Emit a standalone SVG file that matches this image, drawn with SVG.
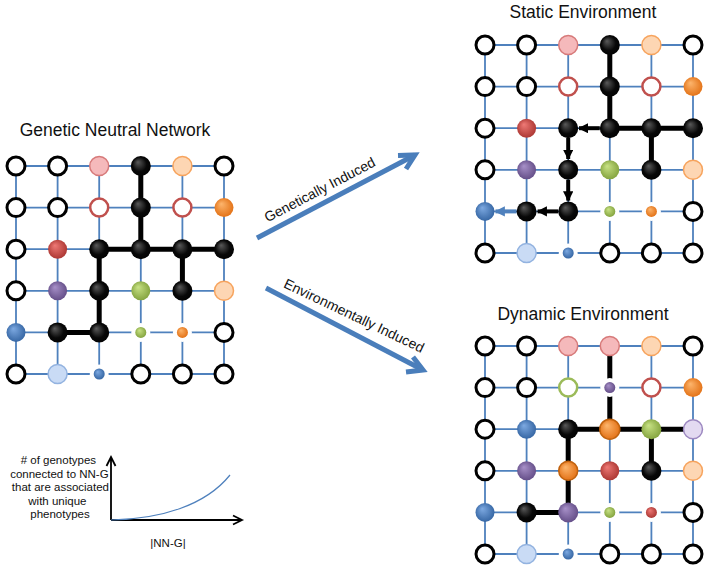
<svg xmlns="http://www.w3.org/2000/svg" width="709" height="572" viewBox="0 0 709 572">
<defs>
<radialGradient id="gB" cx="0.5" cy="0.5" r="0.6" fx="0.35" fy="0.3"><stop offset="0" stop-color="#5a5a5a"/><stop offset="0.6" stop-color="#080808"/><stop offset="1" stop-color="#000"/></radialGradient>
<radialGradient id="gR" cx="0.5" cy="0.5" r="0.6" fx="0.35" fy="0.3"><stop offset="0" stop-color="#ef7a76"/><stop offset="1" stop-color="#a42f2b"/></radialGradient>
<radialGradient id="gOr" cx="0.5" cy="0.5" r="0.6" fx="0.35" fy="0.3"><stop offset="0" stop-color="#fdb66e"/><stop offset="1" stop-color="#e06a0c"/></radialGradient>
<radialGradient id="gG" cx="0.5" cy="0.5" r="0.6" fx="0.35" fy="0.3"><stop offset="0" stop-color="#c9e386"/><stop offset="1" stop-color="#7c9c36"/></radialGradient>
<radialGradient id="gPu" cx="0.5" cy="0.5" r="0.6" fx="0.35" fy="0.3"><stop offset="0" stop-color="#a891c9"/><stop offset="1" stop-color="#5c4680"/></radialGradient>
<radialGradient id="gBl" cx="0.5" cy="0.5" r="0.6" fx="0.35" fy="0.3"><stop offset="0" stop-color="#7eaae2"/><stop offset="1" stop-color="#2d5e9c"/></radialGradient>
<marker id="ah" viewBox="0 0 10 10" refX="9" refY="5" markerWidth="2.6" markerHeight="2.6" orient="auto" markerUnits="strokeWidth"><path d="M0,0 L10,5 L0,10 z" fill="#000"/></marker>
<marker id="ahb" viewBox="0 0 10 10" refX="9" refY="5" markerWidth="2.6" markerHeight="2.6" orient="auto" markerUnits="strokeWidth"><path d="M0,0 L10,5 L0,10 z" fill="#4f81bd"/></marker>
<style>
.grid{fill:none;stroke:#4f81bd;stroke-width:1.8}
.thick{fill:none;stroke:#000;stroke-width:5;stroke-linecap:round}
.arr{fill:none;stroke:#000;stroke-width:4}
.arrb{fill:none;stroke:#4f81bd;stroke-width:4}
.o{fill:#fff;stroke:#000;stroke-width:3}
.b{fill:url(#gB)}
.r{fill:url(#gR)}
.or{fill:url(#gOr)}
.ord{fill:url(#gOr);stroke:#c0620e;stroke-width:1.5}
.g{fill:url(#gG)}
.pu{fill:url(#gPu)}
.bl{fill:url(#gBl)}
.pk{fill:#f5b9bb;stroke:#d77a7a;stroke-width:1.5}
.pe{fill:#fdd6b3;stroke:#f7a45e;stroke-width:1.5}
.ro{fill:#fff;stroke:#c0504d;stroke-width:2.5}
.go{fill:#fff;stroke:#9bbb59;stroke-width:2.5}
.lb{fill:#c9dbf5;stroke:#93b3e0;stroke-width:1.5}
.lv{fill:#e3daf1;stroke:#9c88c0;stroke-width:1.5}
.halo{fill:#fff}
.title{font-family:"Liberation Sans",Arial,sans-serif;font-size:17.5px;fill:#111;text-anchor:middle}
.lbl{font-family:"Liberation Sans",Arial,sans-serif;font-size:14px;fill:#111;text-anchor:middle}
.small{font-family:"Liberation Sans",Arial,sans-serif;font-size:11.5px;fill:#111;text-anchor:middle}
.big{fill:none;stroke:#4a7ebb;stroke-width:5}
.axis{fill:none;stroke:#000;stroke-width:1.8}
</style>
</defs>

<text class="title" x="115" y="136">Genetic Neutral Network</text>
<text class="title" x="583" y="18">Static Environment</text>
<text class="title" x="583" y="320">Dynamic Environment</text>

<!-- Genetic Neutral Network grid -->
<g id="gnn" transform="translate(16,166)">
<path class="grid" d="M0,0H208M0,41.6H208M0,83.2H208M0,124.8H208M0,166.4H208M0,208H208M0,0V208M41.6,0V208M83.2,0V208M124.8,0V208M166.4,0V208M208,0V208"/>
<path class="thick" d="M124.8,0V83.2M83.2,83.2H208M83.2,83.2V166.4M41.6,166.4H83.2M166.4,83.2V124.8"/>
<circle id="gnn-r0c0" class="o" cx="0" cy="0" r="9"/>
<circle id="gnn-r0c1" class="o" cx="41.6" cy="0" r="9"/>
<circle id="gnn-r0c2" class="pk" cx="83.2" cy="0" r="9.5"/>
<circle id="gnn-r0c3" class="b" cx="124.8" cy="0" r="10"/>
<circle id="gnn-r0c4" class="pe" cx="166.4" cy="0" r="9.5"/>
<circle id="gnn-r0c5" class="o" cx="208" cy="0" r="9"/>
<circle id="gnn-r1c0" class="o" cx="0" cy="41.6" r="9"/>
<circle id="gnn-r1c1" class="o" cx="41.6" cy="41.6" r="9"/>
<circle id="gnn-r1c2" class="ro" cx="83.2" cy="41.6" r="9"/>
<circle id="gnn-r1c3" class="b" cx="124.8" cy="41.6" r="10"/>
<circle id="gnn-r1c4" class="ro" cx="166.4" cy="41.6" r="9"/>
<circle id="gnn-r1c5" class="or" cx="208" cy="41.6" r="9.5"/>
<circle id="gnn-r2c0" class="o" cx="0" cy="83.2" r="9"/>
<circle id="gnn-r2c1" class="r" cx="41.6" cy="83.2" r="9.5"/>
<circle id="gnn-r2c2" class="b" cx="83.2" cy="83.2" r="10"/>
<circle id="gnn-r2c3" class="b" cx="124.8" cy="83.2" r="10"/>
<circle id="gnn-r2c4" class="b" cx="166.4" cy="83.2" r="10"/>
<circle id="gnn-r2c5" class="b" cx="208" cy="83.2" r="10"/>
<circle id="gnn-r3c0" class="o" cx="0" cy="124.8" r="9"/>
<circle id="gnn-r3c1" class="pu" cx="41.6" cy="124.8" r="9.5"/>
<circle id="gnn-r3c2" class="b" cx="83.2" cy="124.8" r="10"/>
<circle id="gnn-r3c3" class="g" cx="124.8" cy="124.8" r="9.5"/>
<circle id="gnn-r3c4" class="b" cx="166.4" cy="124.8" r="10"/>
<circle id="gnn-r3c5" class="pe" cx="208" cy="124.8" r="9.5"/>
<circle id="gnn-r4c0" class="bl" cx="0" cy="166.4" r="9.5"/>
<circle id="gnn-r4c1" class="b" cx="41.6" cy="166.4" r="10"/>
<circle id="gnn-r4c2" class="b" cx="83.2" cy="166.4" r="10"/>
<g id="gnn-r4c3"><circle class="halo" cx="124.8" cy="166.4" r="9.5"/><circle class="g" cx="124.8" cy="166.4" r="5.5"/></g>
<g id="gnn-r4c4"><circle class="halo" cx="166.4" cy="166.4" r="9.5"/><circle class="or" cx="166.4" cy="166.4" r="5.5"/></g>
<circle id="gnn-r4c5" class="o" cx="208" cy="166.4" r="9"/>
<circle id="gnn-r5c0" class="o" cx="0" cy="208" r="9"/>
<circle id="gnn-r5c1" class="lb" cx="41.6" cy="208" r="9.5"/>
<g id="gnn-r5c2"><circle class="halo" cx="83.2" cy="208" r="9.5"/><circle class="bl" cx="83.2" cy="208" r="5.5"/></g>
<circle id="gnn-r5c3" class="o" cx="124.8" cy="208" r="9"/>
<circle id="gnn-r5c4" class="o" cx="166.4" cy="208" r="9"/>
<circle id="gnn-r5c5" class="o" cx="208" cy="208" r="9"/>
</g>

<!-- Static Environment grid -->
<g id="static" transform="translate(485,45)">
<path class="grid" d="M0,0H208M0,41.6H208M0,83.2H208M0,124.8H208M0,166.4H208M0,208H208M0,0V208M41.6,0V208M83.2,0V208M124.8,0V208M166.4,0V208M208,0V208"/>
<path class="thick" d="M124.8,0V83.2M124.8,83.2H208M166.4,83.2V124.8"/>
<g id="static-path">
<path class="arr" d="M114.8,83.2H94" marker-end="url(#ah)"/>
<path class="arr" d="M83.2,93V114" marker-end="url(#ah)"/>
<path class="arr" d="M83.2,134.8V155.6" marker-end="url(#ah)"/>
<path class="arr" d="M73.2,166.4H52.6" marker-end="url(#ah)"/>
<path class="arrb" d="M31.6,166.4H10.5" marker-end="url(#ahb)"/>
</g>
<circle id="st-r0c0" class="o" cx="0" cy="0" r="9"/>
<circle id="st-r0c1" class="o" cx="41.6" cy="0" r="9"/>
<circle id="st-r0c2" class="pk" cx="83.2" cy="0" r="9.5"/>
<circle id="st-r0c3" class="b" cx="124.8" cy="0" r="10"/>
<circle id="st-r0c4" class="pe" cx="166.4" cy="0" r="9.5"/>
<circle id="st-r0c5" class="o" cx="208" cy="0" r="9"/>
<circle id="st-r1c0" class="o" cx="0" cy="41.6" r="9"/>
<circle id="st-r1c1" class="o" cx="41.6" cy="41.6" r="9"/>
<circle id="st-r1c2" class="ro" cx="83.2" cy="41.6" r="9"/>
<circle id="st-r1c3" class="b" cx="124.8" cy="41.6" r="10"/>
<circle id="st-r1c4" class="ro" cx="166.4" cy="41.6" r="9"/>
<circle id="st-r1c5" class="or" cx="208" cy="41.6" r="9.5"/>
<circle id="st-r2c0" class="o" cx="0" cy="83.2" r="9"/>
<circle id="st-r2c1" class="r" cx="41.6" cy="83.2" r="9.5"/>
<circle id="st-r2c2" class="b" cx="83.2" cy="83.2" r="10"/>
<circle id="st-r2c3" class="b" cx="124.8" cy="83.2" r="10"/>
<circle id="st-r2c4" class="b" cx="166.4" cy="83.2" r="10"/>
<circle id="st-r2c5" class="b" cx="208" cy="83.2" r="10"/>
<circle id="st-r3c0" class="o" cx="0" cy="124.8" r="9"/>
<circle id="st-r3c1" class="pu" cx="41.6" cy="124.8" r="9.5"/>
<circle id="st-r3c2" class="b" cx="83.2" cy="124.8" r="10"/>
<circle id="st-r3c3" class="g" cx="124.8" cy="124.8" r="9.5"/>
<circle id="st-r3c4" class="b" cx="166.4" cy="124.8" r="10"/>
<circle id="st-r3c5" class="pe" cx="208" cy="124.8" r="9.5"/>
<circle id="st-r4c0" class="bl" cx="0" cy="166.4" r="9.5"/>
<circle id="st-r4c1" class="b" cx="41.6" cy="166.4" r="10"/>
<circle id="st-r4c2" class="b" cx="83.2" cy="166.4" r="10"/>
<g id="st-r4c3"><circle class="halo" cx="124.8" cy="166.4" r="9.5"/><circle class="g" cx="124.8" cy="166.4" r="5.5"/></g>
<g id="st-r4c4"><circle class="halo" cx="166.4" cy="166.4" r="9.5"/><circle class="or" cx="166.4" cy="166.4" r="5.5"/></g>
<circle id="st-r4c5" class="o" cx="208" cy="166.4" r="9"/>
<circle id="st-r5c0" class="o" cx="0" cy="208" r="9"/>
<circle id="st-r5c1" class="lb" cx="41.6" cy="208" r="9.5"/>
<g id="st-r5c2"><circle class="halo" cx="83.2" cy="208" r="9.5"/><circle class="bl" cx="83.2" cy="208" r="5.5"/></g>
<circle id="st-r5c3" class="o" cx="124.8" cy="208" r="9"/>
<circle id="st-r5c4" class="o" cx="166.4" cy="208" r="9"/>
<circle id="st-r5c5" class="o" cx="208" cy="208" r="9"/>
</g>

<!-- Dynamic Environment grid -->
<g id="dynamic" transform="translate(485,346)">
<path class="grid" d="M0,0H208M0,41.6H208M0,83.2H208M0,124.8H208M0,166.4H208M0,208H208M0,0V208M41.6,0V208M83.2,0V208M124.8,0V208M166.4,0V208M208,0V208"/>
<path class="thick" d="M124.8,0V83.2M83.2,83.2H208M83.2,83.2V166.4M41.6,166.4H83.2M166.4,83.2V124.8"/>
<circle id="dy-r0c0" class="o" cx="0" cy="0" r="9"/>
<circle id="dy-r0c1" class="o" cx="41.6" cy="0" r="9"/>
<circle id="dy-r0c2" class="pk" cx="83.2" cy="0" r="9.5"/>
<circle id="dy-r0c3" class="pk" cx="124.8" cy="0" r="9.5"/>
<circle id="dy-r0c4" class="pe" cx="166.4" cy="0" r="9.5"/>
<circle id="dy-r0c5" class="o" cx="208" cy="0" r="9"/>
<circle id="dy-r1c0" class="o" cx="0" cy="41.6" r="9"/>
<circle id="dy-r1c1" class="o" cx="41.6" cy="41.6" r="9"/>
<circle id="dy-r1c2" class="go" cx="83.2" cy="41.6" r="9"/>
<g id="dy-r1c3"><circle class="halo" cx="124.8" cy="41.6" r="9.5"/><circle class="pu" cx="124.8" cy="41.6" r="5.5"/></g>
<circle id="dy-r1c4" class="ro" cx="166.4" cy="41.6" r="9"/>
<circle id="dy-r1c5" class="or" cx="208" cy="41.6" r="9.5"/>
<circle id="dy-r2c0" class="o" cx="0" cy="83.2" r="9"/>
<circle id="dy-r2c1" class="bl" cx="41.6" cy="83.2" r="9.5"/>
<circle id="dy-r2c2" class="b" cx="83.2" cy="83.2" r="10"/>
<circle id="dy-r2c3" class="ord" cx="124.8" cy="83.2" r="10"/>
<circle id="dy-r2c4" class="g" cx="166.4" cy="83.2" r="10"/>
<circle id="dy-r2c5" class="lv" cx="208" cy="83.2" r="9.5"/>
<circle id="dy-r3c0" class="o" cx="0" cy="124.8" r="9"/>
<circle id="dy-r3c1" class="pu" cx="41.6" cy="124.8" r="9.5"/>
<circle id="dy-r3c2" class="ord" cx="83.2" cy="124.8" r="9.5"/>
<circle id="dy-r3c3" class="r" cx="124.8" cy="124.8" r="9.5"/>
<circle id="dy-r3c4" class="b" cx="166.4" cy="124.8" r="10"/>
<circle id="dy-r3c5" class="pe" cx="208" cy="124.8" r="9.5"/>
<circle id="dy-r4c0" class="bl" cx="0" cy="166.4" r="9.5"/>
<circle id="dy-r4c1" class="b" cx="41.6" cy="166.4" r="10"/>
<circle id="dy-r4c2" class="pu" cx="83.2" cy="166.4" r="10"/>
<g id="dy-r4c3"><circle class="halo" cx="124.8" cy="166.4" r="9.5"/><circle class="g" cx="124.8" cy="166.4" r="5.5"/></g>
<g id="dy-r4c4"><circle class="halo" cx="166.4" cy="166.4" r="9.5"/><circle class="r" cx="166.4" cy="166.4" r="5.5"/></g>
<circle id="dy-r4c5" class="o" cx="208" cy="166.4" r="9"/>
<circle id="dy-r5c0" class="o" cx="0" cy="208" r="9"/>
<circle id="dy-r5c1" class="lb" cx="41.6" cy="208" r="9.5"/>
<g id="dy-r5c2"><circle class="halo" cx="83.2" cy="208" r="9.5"/><circle class="bl" cx="83.2" cy="208" r="5.5"/></g>
<circle id="dy-r5c3" class="o" cx="124.8" cy="208" r="9"/>
<circle id="dy-r5c4" class="o" cx="166.4" cy="208" r="9"/>
<circle id="dy-r5c5" class="o" cx="208" cy="208" r="9"/>
</g>

<!-- Connectors between panels -->
<g id="connectors">
<path class="big" d="M257,238L415,155"/>
<path class="big" d="M398,155.5L415,155L406,169" stroke-linejoin="miter"/>
<text class="lbl" x="322" y="194" transform="rotate(-27.7 322 194)">Genetically Induced</text>
<path class="big" d="M266,288L423,370"/>
<path class="big" d="M413,357L423,370L406,372" stroke-linejoin="miter"/>
<text class="lbl" x="352" y="320" transform="rotate(25.5 352 320)">Environmentally Induced</text>
</g>

<!-- Inset chart -->
<g id="chart">
<path class="axis" d="M111,520V457M106.5,466L111,457L115.5,466M111,520H242M233,515.5L242,520L233,524.5"/>
<path d="M111,520C160,519 205,506 230,475" fill="none" stroke="#4f81bd" stroke-width="1.2"/>
<text class="small" x="60" y="464">
<tspan x="60" y="464"># of genotypes</tspan>
<tspan x="61" y="477.5">connected to NN-G</tspan>
<tspan x="62" y="491">that are associated</tspan>
<tspan x="59" y="504.5">with unique</tspan>
<tspan x="60" y="518">phenotypes</tspan>
</text>
<text class="small" x="168" y="547">|NN-G|</text>
</g>
</svg>
